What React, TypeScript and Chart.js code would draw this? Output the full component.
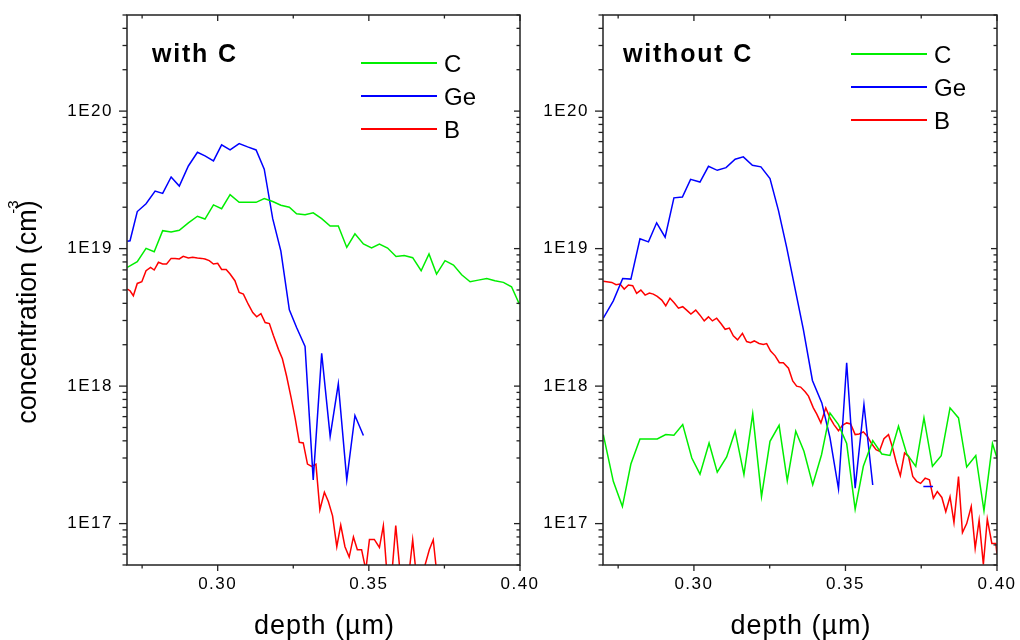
import React, { useEffect, useRef } from 'react';
import { Chart, registerables } from 'chart.js';

Chart.register(...registerables);

const FONT = "'Liberation Sans', Arial, Helvetica, sans-serif";

// ---- axes ----
const xMin = 0.27;
const xMax = 0.40;
const yMin = 5e16;
const yMax = 5e20;
const xMajorTicks = [0.30, 0.35, 0.40];
const xTickLabels = ['0.30', '0.35', '0.40'];
const xMinorTicks = [0.275, 0.325, 0.375];
const yMajorTicks = [1e17, 1e18, 1e19, 1e20];
const yTickLabels = ['1E17', '1E18', '1E19', '1E20'];
const yMinorMultipliers = [2, 3, 4, 5, 6, 7, 8, 9];
const yDecades = [1e16, 1e17, 1e18, 1e19, 1e20];

const seriesNames = ['C', 'Ge', 'B'];
const seriesColors = ['#00ee00', '#0000ff', '#ff0000'];

// ---- panel "with C" ----  [depth (µm), concentration (cm^-3)]
const withC_C: [number, number | null][] = [
  [0.2701, 7.31e18], [0.2734, 8.04e18], [0.2763, 1.005e19], [0.2790, 9.5e18], [0.2818, 1.35e19],
  [0.2846, 1.32e19], [0.2873, 1.36e19], [0.2903, 1.54e19], [0.2933, 1.72e19], [0.2958, 1.64e19],
  [0.2986, 2.08e19], [0.3013, 1.95e19], [0.3041, 2.47e19], [0.3071, 2.17e19], [0.3099, 2.17e19],
  [0.3127, 2.17e19], [0.3154, 2.31e19], [0.3182, 2.20e19], [0.3209, 2.07e19], [0.3237, 2.00e19],
  [0.3261, 1.79e19], [0.3289, 1.76e19], [0.3316, 1.82e19], [0.3344, 1.65e19], [0.3372, 1.46e19],
  [0.3399, 1.46e19], [0.3427, 1.02e19], [0.3454, 1.28e19], [0.3482, 1.08e19], [0.3509, 1.01e19],
  [0.3535, 1.08e19], [0.3562, 1.01e19], [0.3590, 8.75e18], [0.3617, 8.9e18], [0.3645, 8.59e18],
  [0.3673, 6.90e18], [0.3699, 9.14e18], [0.3724, 6.53e18], [0.3752, 8.17e18], [0.3780, 7.60e18],
  [0.3807, 6.46e18], [0.3835, 5.74e18], [0.3862, 5.90e18], [0.3890, 6.07e18], [0.3917, 5.84e18],
  [0.3945, 5.68e18], [0.3972, 5.28e18], [0.3998, 3.94e18],
];

const withC_Ge: [number, number | null][] = [
  [0.2701, 1.13e19], [0.2710, 1.14e19], [0.2734, 1.86e19], [0.2763, 2.12e19], [0.2793, 2.62e19],
  [0.2818, 2.52e19], [0.2846, 3.32e19], [0.2873, 2.85e19], [0.2903, 3.99e19], [0.2933, 5.02e19],
  [0.2958, 4.72e19], [0.2986, 4.34e19], [0.3013, 5.68e19], [0.3041, 5.22e19], [0.3071, 5.81e19],
  [0.3099, 5.49e19], [0.3127, 5.22e19], [0.3154, 3.78e19], [0.3182, 1.65e19], [0.3209, 9.6e18],
  [0.3237, 3.59e18], [0.3261, 2.67e18], [0.3289, 1.94e18], [0.3316, 2.08e17], [0.3344, 1.73e18],
  [0.3372, 4.31e17], [0.3399, 1.04e18], [0.3427, 2.08e17], [0.3454, 6.11e17], [0.3482, 4.37e17],
];

const withC_B: [number, number | null][] = [
  [0.2701, 5.08e18], [0.2710, 4.94e18], [0.2721, 4.54e18], [0.2734, 5.58e18], [0.2749, 5.74e18],
  [0.2763, 6.90e18], [0.2778, 7.31e18], [0.2790, 6.99e18], [0.2804, 7.95e18], [0.2818, 7.73e18],
  [0.2831, 7.73e18], [0.2846, 8.49e18], [0.2859, 8.49e18], [0.2873, 8.41e18], [0.2886, 8.79e18],
  [0.2903, 8.55e18], [0.2917, 8.65e18], [0.2933, 8.55e18], [0.2947, 8.49e18], [0.2958, 8.41e18],
  [0.2972, 8.17e18], [0.2986, 7.73e18], [0.3000, 7.81e18], [0.3013, 7.06e18], [0.3028, 7.06e18],
  [0.3041, 6.53e18], [0.3057, 5.84e18], [0.3071, 4.80e18], [0.3085, 4.67e18], [0.3101, 3.94e18],
  [0.3116, 3.43e18], [0.3129, 3.19e18], [0.3143, 3.37e18], [0.3157, 2.90e18], [0.3171, 2.85e18],
  [0.3184, 2.34e18], [0.3201, 1.85e18], [0.3214, 1.58e18], [0.3228, 1.18e18], [0.3243, 8.2e17],
  [0.3256, 5.87e17], [0.3270, 3.90e17], [0.3283, 3.86e17], [0.3297, 2.71e17], [0.3311, 2.61e17],
  [0.3325, 2.71e17], [0.3338, 1.26e17], [0.3353, 1.69e17], [0.3366, 1.45e17], [0.3380, 1.14e17],
  [0.3394, 6.79e16], [0.3407, 9.77e16], [0.3421, 6.79e16], [0.3435, 5.71e16], [0.3449, 8.0e16],
  [0.3462, 6.46e16], [0.3476, 6.46e16], [0.3490, 4.6e16], [0.3502, 7.67e16], [0.3518, 7.67e16],
  [0.3535, 6.7e16], [0.3548, 9.66e16], [0.3561, 4.0e16], [0.3575, 4.0e16], [0.3589, 9.66e16],
  [0.3603, 4.5e16], [0.3616, 4.0e16], [0.3631, 4.0e16], [0.3645, 7.63e16], [0.3658, 4.0e16],
  [0.3673, 4.0e16], [0.3686, 5.0e16], [0.3700, 6.46e16], [0.3713, 7.63e16], [0.3724, 4.5e16],
  [0.3738, 3.5e16],
];

// ---- panel "without C" ----
const withoutC_C: [number, number | null][] = [
  [0.2701, 4.44e17], [0.2734, 2.03e17], [0.2764, 1.33e17], [0.2792, 2.71e17], [0.2822, 4.13e17],
  [0.2851, 4.13e17], [0.2879, 4.13e17], [0.2907, 4.44e17], [0.2934, 4.39e17], [0.2963, 5.25e17],
  [0.2993, 3.0e17], [0.3020, 2.29e17], [0.3050, 3.86e17], [0.3077, 2.37e17], [0.3108, 3.05e17],
  [0.3136, 4.70e17], [0.3165, 2.27e17], [0.3194, 6.28e17], [0.3223, 1.57e17], [0.3251, 3.97e17],
  [0.3281, 5.19e17], [0.3308, 2.05e17], [0.3336, 4.70e17], [0.3363, 3.36e17], [0.3392, 1.92e17],
  [0.3421, 3.17e17], [0.3449, 6.38e17], [0.3477, 5.25e17], [0.3504, 3.82e17], [0.3532, 1.27e17],
  [0.3559, 2.61e17], [0.3590, 4.01e17], [0.3620, 3.21e17], [0.3647, 3.13e17], [0.3675, 5.11e17],
  [0.3702, 3.23e17], [0.3732, 2.61e17], [0.3759, 5.87e17], [0.3787, 2.61e17], [0.3816, 3.12e17],
  [0.3845, 6.95e17], [0.3873, 5.87e17], [0.3900, 2.58e17], [0.3930, 3.13e17], [0.3957, 1.24e17],
  [0.3985, 3.82e17], [0.4000, 3.0e17],
];

const withoutC_Ge: [number, number | null][] = [
  [0.2701, 3.12e18], [0.2734, 4.17e18], [0.2765, 6.07e18], [0.2792, 6.0e18], [0.2822, 1.18e19],
  [0.2850, 1.12e19], [0.2877, 1.54e19], [0.2905, 1.21e19], [0.2934, 2.34e19], [0.2962, 2.37e19],
  [0.2989, 3.19e19], [0.3020, 3.05e19], [0.3048, 3.97e19], [0.3077, 3.71e19], [0.3106, 3.88e19],
  [0.3136, 4.47e19], [0.3163, 4.65e19], [0.3193, 4.04e19], [0.3221, 3.93e19], [0.3251, 3.23e19],
  [0.3279, 1.89e19], [0.3306, 1.02e19], [0.3361, 2.59e18], [0.3391, 1.10e18], [0.3422, 7.55e17],
  [0.3449, 4.20e17], [0.3477, 1.79e17], [0.3504, 1.48e18], [0.3532, 1.81e17], [0.3561, 7.35e17],
  [0.3590, 1.91e17], [0.3680, null], [0.3757, 1.86e17], [0.3789, 1.86e17],
];

const withoutC_B: [number, number | null][] = [
  [0.2701, 5.78e18], [0.2729, 5.68e18], [0.2743, 5.46e18], [0.2756, 5.52e18], [0.2770, 5.08e18],
  [0.2784, 5.43e18], [0.2798, 5.37e18], [0.2811, 4.72e18], [0.2825, 4.99e18], [0.2839, 4.59e18],
  [0.2853, 4.75e18], [0.2866, 4.67e18], [0.2879, 4.49e18], [0.2894, 4.22e18], [0.2907, 3.84e18],
  [0.2921, 4.36e18], [0.2934, 4.06e18], [0.2949, 3.69e18], [0.2963, 3.78e18], [0.2976, 3.57e18],
  [0.2990, 3.34e18], [0.3006, 3.57e18], [0.3020, 3.28e18], [0.3034, 2.98e18], [0.3048, 3.19e18],
  [0.3061, 2.98e18], [0.3075, 3.12e18], [0.3089, 2.85e18], [0.3103, 2.59e18], [0.3117, 2.64e18],
  [0.3130, 2.32e18], [0.3144, 2.17e18], [0.3160, 2.42e18], [0.3174, 2.11e18], [0.3187, 2.07e18],
  [0.3199, 2.13e18], [0.3215, 2.04e18], [0.3229, 2.01e18], [0.3240, 2.04e18], [0.3253, 1.80e18],
  [0.3268, 1.66e18], [0.3282, 1.48e18], [0.3295, 1.48e18], [0.3312, 1.35e18], [0.3326, 1.09e18],
  [0.3339, 1.0e18], [0.3352, 9.84e17], [0.3367, 9.10e17], [0.3378, 8.46e17], [0.3394, 6.95e17],
  [0.3405, 6.28e17], [0.3419, 5.40e17], [0.3435, 6.95e17], [0.3449, 5.87e17], [0.3462, 5.25e17],
  [0.3477, 4.74e17], [0.3490, 5.19e17], [0.3504, 5.40e17], [0.3517, 5.31e17], [0.3532, 4.44e17],
  [0.3545, 4.49e17], [0.3559, 4.65e17], [0.3572, 4.32e17], [0.3587, 3.79e17], [0.3601, 3.45e17],
  [0.3612, 3.36e17], [0.3627, 4.15e17], [0.3642, 4.44e17], [0.3655, 3.59e17], [0.3668, 2.76e17],
  [0.3681, 2.23e17], [0.3695, 3.26e17], [0.3708, 3.08e17], [0.3722, 2.20e17], [0.3735, 2.03e17],
  [0.3748, 1.96e17], [0.3763, 2.14e17], [0.3777, 2.08e17], [0.3790, 1.53e17], [0.3803, 1.71e17],
  [0.3818, 1.55e17], [0.3831, 1.22e17], [0.3845, 1.57e17], [0.3858, 1.02e17], [0.3873, 2.20e17],
  [0.3886, 8.59e16], [0.3900, 1.0e17], [0.3915, 1.33e17], [0.3928, 6.61e16], [0.3941, 1.06e17],
  [0.3955, 5.05e16], [0.3968, 1.08e17], [0.3983, 7.18e16], [0.3996, 7.18e16], [0.4000, 6.0e16],
];

type PanelCfg = {
  title: string;
  series: [number, number | null][][];
  left: number;
  width: number;
  yAxisWidth: number;
  padRight: number;
  legendX: number;
  legendY: number;
  titleX: number;
  showYTitle: boolean;
};

const panels: PanelCfg[] = [
  {
    title: 'with C', series: [withC_C, withC_Ge, withC_B],
    left: 0, width: 540, yAxisWidth: 127, padRight: 20,
    legendX: 234, legendY: 63, titleX: 25, showYTitle: true,
  },
  {
    title: 'without C', series: [withoutC_C, withoutC_Ge, withoutC_B],
    left: 540, width: 480, yAxisWidth: 63, padRight: 23,
    legendX: 248, legendY: 54, titleX: 20, showYTitle: false,
  },
];

const zeroPad = (s: any) => {
  s.paddingTop = 0;
  s.paddingBottom = 0;
  s.paddingLeft = 0;
  s.paddingRight = 0;
};

function Panel({ cfg }: { cfg: PanelCfg }) {
  const ref = useRef<HTMLCanvasElement>(null);
  useEffect(() => {
    const decor = {
      id: 'decor',
      beforeDraw(chart: any) {
        chart.ctx.letterSpacing = '1.5px';
      },
      afterDraw(chart: any) {
        const { ctx, chartArea: a } = chart;
        const xs = chart.scales.x;
        const ys = chart.scales.y;
        ctx.save();
        ctx.letterSpacing = '0px';
        ctx.strokeStyle = '#222';
        ctx.lineWidth = 1.5;
        ctx.strokeRect(a.left, a.top, a.right - a.left, a.bottom - a.top);
        const seg = (x1: number, y1: number, x2: number, y2: number) => {
          ctx.beginPath();
          ctx.moveTo(x1, y1);
          ctx.lineTo(x2, y2);
          ctx.stroke();
        };
        ctx.lineWidth = 1.3;
        xMajorTicks.forEach((v) => {
          const p = xs.getPixelForValue(v);
          seg(p, a.bottom, p, a.bottom + 6);
          seg(p, a.top, p, a.top + 6);
        });
        xMinorTicks.forEach((v) => {
          const p = xs.getPixelForValue(v);
          seg(p, a.bottom, p, a.bottom + 3.5);
          seg(p, a.top, p, a.top + 3.5);
        });
        yMajorTicks.forEach((v) => {
          const p = ys.getPixelForValue(v);
          seg(a.left - 8, p, a.left, p);
          seg(a.right - 6, p, a.right, p);
        });
        yDecades.forEach((d) => {
          yMinorMultipliers.forEach((m) => {
            const v = d * m;
            if (v < yMin * 0.999 || v > yMax * 1.001) return;
            const p = ys.getPixelForValue(v);
            seg(a.left - 4.5, p, a.left, p);
            seg(a.right - 3.5, p, a.right, p);
          });
        });

        // panel title
        ctx.fillStyle = '#000';
        ctx.font = `bold 25px ${FONT}`;
        ctx.letterSpacing = '1.8px';
        ctx.textAlign = 'left';
        ctx.textBaseline = 'alphabetic';
        ctx.fillText(cfg.title, a.left + cfg.titleX, 62);

        // legend
        ctx.letterSpacing = '0px';
        ctx.font = `24px ${FONT}`;
        chart.data.datasets.forEach((ds: any, i: number) => {
          const ly = cfg.legendY + i * 33;
          const lx = a.left + cfg.legendX;
          ctx.strokeStyle = ds.borderColor;
          ctx.lineWidth = 2;
          seg(lx, ly, lx + 76, ly);
          ctx.fillStyle = '#000';
          ctx.fillText(ds.label, lx + 83, ly + 8.5);
        });

        // x title
        ctx.font = `27px ${FONT}`;
        ctx.letterSpacing = '1px';
        ctx.textAlign = 'center';
        ctx.fillText('depth (µm)', (a.left + a.right) / 2 + 1, 634);

        // y title
        if (cfg.showYTitle) {
          ctx.save();
          ctx.translate(36, 312);
          ctx.rotate(-Math.PI / 2);
          ctx.letterSpacing = '0px';
          ctx.font = `27px ${FONT}`;
          ctx.textAlign = 'center';
          ctx.fillText('concentration (cm)', 0, 0);
          ctx.font = `15px ${FONT}`;
          ctx.fillText('-3', 105, -18);
          ctx.restore();
        }
        ctx.restore();
      },
    };

    const chart = new Chart(ref.current as HTMLCanvasElement, {
      type: 'line',
      data: {
        datasets: cfg.series.map((s, i) => ({
          label: seriesNames[i],
          data: s.map(([x, y]) => ({ x, y })),
          borderColor: seriesColors[i],
          backgroundColor: seriesColors[i],
          borderWidth: 1.5,
          pointRadius: 0,
          tension: 0,
          fill: false,
          spanGaps: false,
        })),
      },
      options: {
        responsive: false,
        animation: false,
        events: [],
        layout: { padding: { left: 0, right: cfg.padRight, top: 15, bottom: 0 } },
        plugins: { legend: { display: false }, tooltip: { enabled: false }, title: { display: false } },
        scales: {
          x: {
            type: 'linear',
            min: xMin,
            max: xMax,
            grid: { display: false, drawTicks: false },
            border: { display: false },
            afterBuildTicks: (s: any) => {
              s.ticks = xMajorTicks.map((v) => ({ value: v }));
            },
            afterFit: (s: any) => {
              s.height = 75;
              zeroPad(s);
            },
            ticks: {
              autoSkip: false,
              maxRotation: 0,
              padding: 9,
              color: '#000',
              font: { family: FONT, size: 17 },
              callback: (v: any) => {
                const i = xMajorTicks.findIndex((t) => Math.abs(t - v) < 1e-9);
                return i >= 0 ? xTickLabels[i] : '';
              },
            },
          },
          y: {
            type: 'logarithmic',
            min: yMin,
            max: yMax,
            grid: { display: false, drawTicks: false },
            border: { display: false },
            afterBuildTicks: (s: any) => {
              s.ticks = yMajorTicks.map((v) => ({ value: v }));
            },
            afterFit: (s: any) => {
              s.width = cfg.yAxisWidth;
              zeroPad(s);
            },
            ticks: {
              autoSkip: false,
              padding: 14,
              color: '#000',
              font: { family: FONT, size: 17 },
              callback: (v: any) => {
                const i = yMajorTicks.findIndex((t) => Math.abs(t - v) / t < 1e-6);
                return i >= 0 ? yTickLabels[i] : '';
              },
            },
          },
        },
      } as any,
      plugins: [decor],
    });
    return () => chart.destroy();
  }, [cfg]);

  return (
    <canvas
      ref={ref}
      width={cfg.width}
      height={640}
      style={{ position: 'absolute', left: cfg.left, top: 0, width: cfg.width, height: 640 }}
    />
  );
}

export default function App() {
  return (
    <div style={{ position: 'fixed', left: 0, top: 0, width: 1020, height: 640, background: '#fff' }}>
      {panels.map((p) => (
        <Panel key={p.title} cfg={p} />
      ))}
    </div>
  );
}
